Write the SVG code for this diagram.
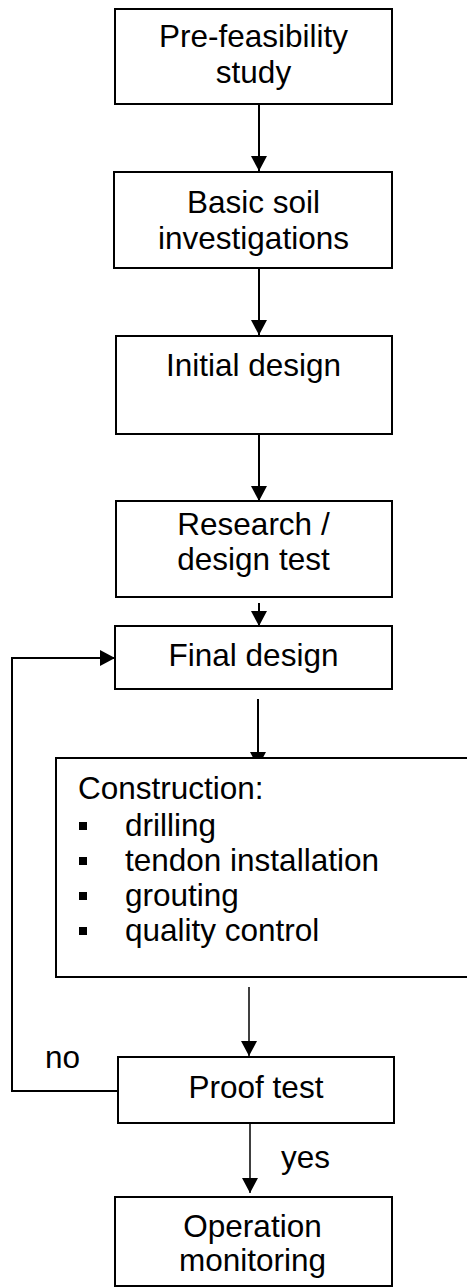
<svg xmlns="http://www.w3.org/2000/svg" width="467" height="1288" viewBox="0 0 467 1288">
  <style>
    .box { fill: #ffffff; stroke: #000000; stroke-width: 2; }
    .lbl { font-family: "Liberation Sans", Arial, sans-serif; font-size: 31.5px; fill: #000000; }
    .mid { text-anchor: middle; }
    .edge { fill: none; stroke: #000000; stroke-width: 2; }
    .edge-thin { fill: none; stroke: #000000; stroke-width: 1.5; }
  </style>
  <defs>
    <marker id="head" markerUnits="userSpaceOnUse" markerWidth="16" markerHeight="16" viewBox="0 0 16 16" refX="15" refY="8" orient="auto">
      <path d="M0,0 L15,8 L0,16 Z" fill="#000000"/>
    </marker>
  </defs>
  <rect width="467" height="1288" fill="#ffffff"/>

  <!-- connectors -->
  <g id="connectors">
    <line class="edge" x1="259" y1="104" x2="259" y2="171" marker-end="url(#head)"/>
    <line class="edge" x1="259" y1="268" x2="259" y2="335" marker-end="url(#head)"/>
    <line class="edge" x1="259" y1="434" x2="259" y2="501" marker-end="url(#head)"/>
    <line class="edge" x1="259" y1="603" x2="259" y2="626" marker-end="url(#head)"/>
    <line class="edge" x1="258" y1="699" x2="258" y2="767" marker-end="url(#head)"/>
    <line class="edge-thin" x1="249" y1="987" x2="249" y2="1056" marker-end="url(#head)"/>
    <line class="edge-thin" x1="250" y1="1123" x2="250" y2="1193" marker-end="url(#head)"/>
    <!-- "no" loop back to final design -->
    <polyline class="edge" points="118,1091 12,1091 12,658 115,658" marker-end="url(#head)"/>
    <text class="lbl" x="45" y="1068">no</text>
    <text class="lbl" x="281" y="1168">yes</text>
  </g>

  <g id="n-prefeasibility">
    <rect class="box" x="115" y="9" width="277" height="95"/>
    <text class="lbl mid" x="253.5" y="47">Pre-feasibility</text>
    <text class="lbl mid" x="253.5" y="83">study</text>
  </g>

  <g id="n-soil">
    <rect class="box" x="114" y="172" width="278" height="96"/>
    <text class="lbl mid" x="253.5" y="213">Basic soil</text>
    <text class="lbl mid" x="253.5" y="249">investigations</text>
  </g>

  <g id="n-initial">
    <rect class="box" x="116" y="336" width="276" height="98"/>
    <text class="lbl mid" x="253.5" y="376">Initial design</text>
  </g>

  <g id="n-research">
    <rect class="box" x="116" y="501" width="276" height="96"/>
    <text class="lbl mid" x="253.5" y="535">Research /</text>
    <text class="lbl mid" x="253.5" y="570">design test</text>
  </g>

  <g id="n-final">
    <rect class="box" x="115" y="626" width="277" height="63"/>
    <text class="lbl mid" x="253.5" y="666">Final design</text>
  </g>

  <g id="n-construction">
    <rect class="box" x="56" y="758" width="420" height="219"/>
    <text class="lbl" x="78" y="799">Construction:</text>
    <rect x="79" y="822" width="8" height="8" fill="#000000"/>
    <text class="lbl" x="125" y="836">drilling</text>
    <rect x="79" y="857" width="8" height="8" fill="#000000"/>
    <text class="lbl" x="125" y="871">tendon installation</text>
    <rect x="79" y="892" width="8" height="8" fill="#000000"/>
    <text class="lbl" x="125" y="906">grouting</text>
    <rect x="79" y="927" width="8" height="8" fill="#000000"/>
    <text class="lbl" x="125" y="941">quality control</text>
  </g>

  <g id="n-proof">
    <rect class="box" x="118" y="1057" width="276" height="66"/>
    <text class="lbl mid" x="256" y="1098">Proof test</text>
  </g>

  <g id="n-operation">
    <rect class="box" x="115" y="1197" width="277" height="89"/>
    <text class="lbl mid" x="252.5" y="1237">Operation</text>
    <text class="lbl mid" x="252.5" y="1271">monitoring</text>
  </g>
</svg>
